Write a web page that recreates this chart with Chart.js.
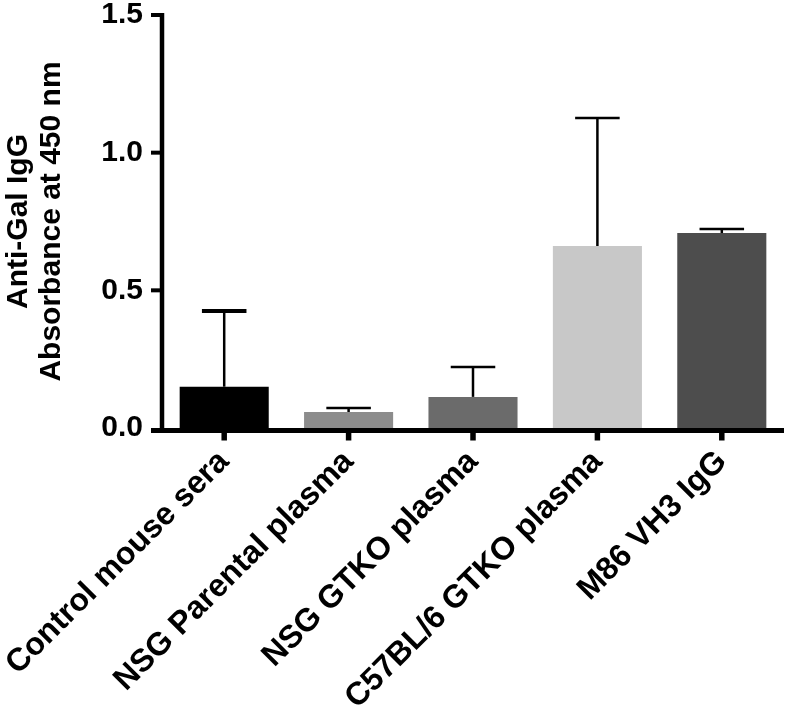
<!DOCTYPE html>
<html><head><meta charset="utf-8">
<script src="https://cdn.jsdelivr.net/npm/chart.js@4/dist/chart.umd.min.js"></script>
<style>html,body{margin:0;padding:0;background:#fff}#wrap{width:789px;height:711px}</style>
</head><body><div id="wrap"><canvas id="c" width="789" height="711"></canvas></div>
<script>
const categories = ["Control mouse sera","NSG Parental plasma","NSG GTKO plasma","C57BL/6 GTKO plasma","M86 VH3 IgG"];
const means = [0.15, 0.058, 0.113, 0.661, 0.708];
const sdUpper = [0.275, 0.015, 0.109, 0.465, 0.015];
const barColors = ["#000000","#8c8c8c","#6b6b6b","#c8c8c8","#4d4d4d"];
const yTicks = [0, 0.5, 1.0, 1.5];
const yTitle = ["Anti-Gal IgG","Absorbance at 450 nm"];

const FONT = "'Liberation Sans', Arial, Helvetica, sans-serif";

const errorBars = {
  id: 'errorBars',
  afterDatasetsDraw(chart) {
    const ctx = chart.ctx, meta = chart.getDatasetMeta(0), y = chart.scales.y;
    ctx.save();
    ctx.strokeStyle = '#000';
    meta.data.forEach((bar, i) => {
      const top = y.getPixelForValue(means[i] + sdUpper[i]);
      const base = y.getPixelForValue(means[i]);
      const half = bar.width / 4;
      ctx.lineWidth = 2.5;
      ctx.beginPath(); ctx.moveTo(bar.x, base); ctx.lineTo(bar.x, top); ctx.stroke();
      ctx.lineWidth = i === 0 ? 4 : 2.5;
      ctx.beginPath(); ctx.moveTo(bar.x - half, top); ctx.lineTo(bar.x + half, top); ctx.stroke();
    });
    ctx.restore();
  }
};

const axesLines = {
  id: 'axesLines',
  afterDraw(chart) {
    const ctx = chart.ctx, a = chart.chartArea, x = chart.scales.x, y = chart.scales.y;
    ctx.save();
    ctx.strokeStyle = '#000';
    ctx.lineWidth = 4.5;
    ctx.beginPath(); ctx.moveTo(a.left, y.getPixelForValue(1.5) - 2); ctx.lineTo(a.left, a.bottom); ctx.stroke();
    yTicks.forEach(v => {
      const py = y.getPixelForValue(v) + (v === 0 ? 2.5 : 0);
      ctx.lineWidth = 4;
      ctx.beginPath(); ctx.moveTo(a.left - 11, py); ctx.lineTo(a.left, py); ctx.stroke();
    });
    ctx.lineWidth = 5;
    const ay = a.bottom + 2.5;
    ctx.beginPath(); ctx.moveTo(a.left - 11, ay); ctx.lineTo(a.right, ay); ctx.stroke();
    categories.forEach((c, i) => {
      const px = x.getPixelForValue(i);
      ctx.lineWidth = 5.5;
      ctx.beginPath(); ctx.moveTo(px, ay); ctx.lineTo(px, ay + 10); ctx.stroke();
    });
    ctx.restore();
  }
};

function zeroPad(s) { s.paddingLeft = 0; s.paddingRight = 0; s.paddingTop = 0; s.paddingBottom = 0; }

new Chart(document.getElementById('c'), {
  type: 'bar',
  data: {
    labels: categories,
    datasets: [{ data: means, backgroundColor: barColors, borderWidth: 0, barPercentage: 0.716, categoryPercentage: 1.0 }]
  },
  options: {
    responsive: false,
    animation: false,
    layout: { padding: { top: 15, right: 5, left: 0, bottom: 0 } },
    plugins: { legend: { display: false }, tooltip: { enabled: false } },
    scales: {
      x: {
        grid: { display: false, drawTicks: false },
        border: { display: false },
        ticks: { color: '#000', font: { family: FONT, size: 32, weight: 'bold' }, minRotation: 45, maxRotation: 45, padding: 15 },
        afterFit(s) { s.height = 283; zeroPad(s); }
      },
      y: {
        min: 0, max: 1.5,
        grid: { display: false, drawTicks: false },
        border: { display: false },
        afterBuildTicks(s) { s.ticks = yTicks.map(v => ({ value: v })); },
        ticks: { color: '#000', font: { family: FONT, size: 30, weight: 'bold', lineHeight: 1.0 }, padding: 19, callback: v => Number(v).toFixed(1) },
        title: { display: true, text: yTitle, color: '#000', font: { family: FONT, size: 30, weight: 'bold', lineHeight: 1.1 }, padding: { top: 2, bottom: 4 } },
        afterFit(s) { s.width = 162; zeroPad(s); }
      }
    }
  },
  plugins: [errorBars, axesLines]
});
</script>
</body></html>
